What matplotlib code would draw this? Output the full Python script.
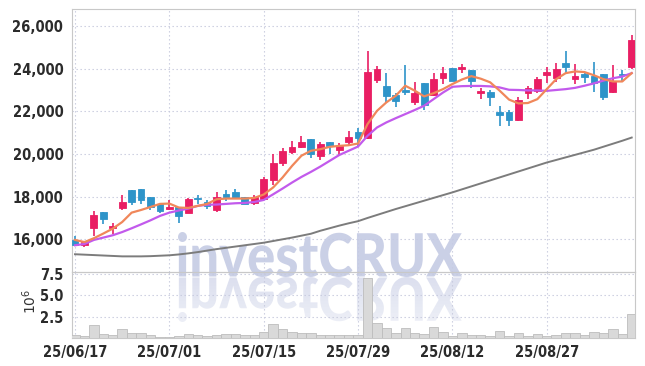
import numpy as np
import matplotlib
matplotlib.use("Agg")
import matplotlib.pyplot as plt
from matplotlib import font_manager
from matplotlib.textpath import TextPath
from matplotlib.patches import PathPatch, Rectangle
from matplotlib.font_manager import FontProperties
from matplotlib.transforms import Affine2D
from matplotlib.ticker import FuncFormatter

# ===========================
# Data
# ===========================
dates = ["25/06/17", "25/06/18", "25/06/19", "25/06/20", "25/06/23", "25/06/24", "25/06/25", "25/06/26", "25/06/27", "25/06/30",
         "25/07/01", "25/07/02", "25/07/03", "25/07/04", "25/07/07", "25/07/08", "25/07/09", "25/07/10", "25/07/11", "25/07/14",
         "25/07/15", "25/07/16", "25/07/17", "25/07/18", "25/07/21", "25/07/22", "25/07/23", "25/07/24", "25/07/25", "25/07/28",
         "25/07/29", "25/07/30", "25/07/31", "25/08/01", "25/08/04", "25/08/05", "25/08/06", "25/08/07", "25/08/08", "25/08/11",
         "25/08/12", "25/08/13", "25/08/14", "25/08/18", "25/08/19", "25/08/20", "25/08/21", "25/08/22", "25/08/25", "25/08/26",
         "25/08/27", "25/08/28", "25/08/29", "25/09/01", "25/09/02", "25/09/03", "25/09/04", "25/09/05", "25/09/08", "25/09/09"]

opens = [15950, 15751, 16516, 17268, 16516, 17455, 18300, 18347, 17986, 17643,
         17440, 17502, 17252, 17900, 17745, 17375, 18113, 18207, 17972, 17690,
         17878, 18803, 19600, 20100, 20333, 20695, 19925, 20540, 20190, 20570,
         21020, 20740, 23490, 23180, 22760, 22995, 22420, 23320, 22760, 23560,
         24030, 23970, 23930, 22850, 22920, 21980, 21980, 21590, 22840, 22950,
         23710, 23560, 24260, 23500, 23750, 23670, 23750, 22920, 23750, 24070]
highs = [16155, 15900, 17315, 17280, 16751, 18080, 18320, 18360, 18000, 17720,
         17845, 17510, 17940, 18097, 17830, 18221, 18315, 18380, 17990, 18066,
         18943, 20005, 20300, 20600, 20850, 20700, 20540, 20550, 20520, 21060,
         21200, 24810, 24140, 23780, 22880, 24170, 23390, 23330, 23820, 24100,
         24040, 24200, 23940, 23070, 23000, 22230, 22080, 22680, 23200, 23590,
         24060, 24260, 24810, 24200, 23860, 24300, 23760, 24170, 23930, 25580]
lows = [15671, 15638, 16174, 16704, 16268, 17375, 17630, 17660, 17375, 17237,
        17375, 16783, 17240, 17634, 17440, 17283, 17800, 17880, 17643, 17596,
        17830, 18568, 19420, 19990, 20300, 19830, 19710, 20020, 19975, 20380,
        20350, 20695, 23350, 22450, 22180, 22760, 22300, 22070, 22700, 23280,
        23400, 23820, 23090, 22570, 22230, 21290, 21330, 21530, 22570, 22880,
        23330, 23370, 23820, 23280, 23310, 22890, 22525, 22850, 23400, 24000]
closes = [15732, 15873, 17127, 16939, 16610, 17737, 17750, 17864, 17535, 17315,
          17534, 17096, 17878, 17878, 17560, 17972, 17986, 17925, 17675, 17986,
          18817, 19568, 20117, 20350, 20550, 19990, 20460, 20380, 20380, 20790,
          20740, 23840, 23990, 22730, 22480, 22890, 22850, 22290, 23510, 23800,
          23440, 24080, 23410, 22930, 22690, 21820, 21610, 22520, 23090, 23510,
          23840, 23990, 24100, 23650, 23630, 23330, 22660, 23440, 23680, 25350]

# volume in millions of shares
volumes = [0.39, 0.19, 1.47, 0.43, 0.31, 1.00, 0.54, 0.54, 0.31, 0.15,
           0.15, 0.27, 0.43, 0.31, 0.19, 0.31, 0.43, 0.43, 0.31, 0.30,
           0.66, 1.59, 1.00, 0.70, 0.54, 0.54, 0.39, 0.31, 0.39, 0.30,
           0.31, 6.98, 1.74, 1.16, 0.54, 1.12, 0.54, 0.43, 1.24, 0.70,
           0.27, 0.54, 0.39, 0.39, 0.27, 0.78, 0.27, 0.54, 0.27, 0.43,
           0.27, 0.31, 0.54, 0.54, 0.39, 0.70, 0.54, 1.00, 0.43, 2.75]

ma_short = [15970, 15870, 16050, 16270, 16500, 16810, 17250, 17375, 17515, 17660,
            17675, 17490, 17470, 17565, 17660, 17878, 17910, 17910, 17910, 17940,
            18100, 18430, 18900, 19440, 19920, 20150, 20225, 20335, 20380, 20410,
            20490, 21400, 22020, 22420, 22730, 23200, 22970, 22700, 22850, 23040,
            23280, 23490, 23650, 23530, 23360, 22970, 22550, 22370, 22390, 22570,
            23040, 23510, 23790, 23870, 23840, 23690, 23510, 23400, 23400, 23790]
ma_mid = [15720, 15780, 15970, 16080, 16190, 16340, 16516, 16700, 16890, 17095,
          17250, 17350, 17440, 17565, 17620, 17630, 17660, 17690, 17705, 17750,
          17845, 18110, 18380, 18660, 18925, 19160, 19410, 19680, 19950, 20150,
          20350, 20850, 21240, 21480, 21680, 21870, 22060, 22260, 22570, 22880,
          23150, 23180, 23190, 23190, 23170, 23120, 23010, 23000, 22980, 22980,
          22960, 23000, 23040, 23100, 23200, 23310, 23440, 23550, 23630, 23790]
ma_long = [15300, 15280, 15260, 15240, 15220, 15200, 15200, 15200, 15210, 15230,
           15250, 15290, 15340, 15400, 15470, 15540, 15600, 15660, 15720, 15780,
           15840, 15920, 16000, 16080, 16170, 16260, 16400, 16520, 16640, 16750,
           16850, 17000, 17140, 17280, 17420, 17550, 17680, 17810, 17940, 18070,
           18200, 18340, 18480, 18620, 18760, 18900, 19040, 19180, 19320, 19460,
           19600, 19720, 19840, 19960, 20080, 20200, 20340, 20480, 20620, 20770]

price_ticks = [16000, 18000, 20000, 22000, 24000, 26000]
volume_ticks = [2.5, 5.0, 7.5]
date_tick_idx = [0, 10, 20, 30, 40, 50]

# ===========================
# Style
# ===========================
UP = "#e91e63"
DOWN = "#2e94c9"
GRID = "#c6c9dd"
SPINE = "#c8c8c8"


def pick_tick_font():
    # prefer a narrow / condensed bold face, like the reference labels
    for f in font_manager.fontManager.ttflist:
        nm = f.fname.lower()
        if ("narrow" in nm or "condensed" in nm) and "bold" in nm and "italic" not in nm and "oblique" not in nm:
            return FontProperties(fname=f.fname, size=10.5)
    return FontProperties(family="Liberation Sans", weight="bold", size=10)


def pick_mark_font():
    names = {f.name for f in font_manager.fontManager.ttflist}
    for fam in ["Lato", "Open Sans", "Roboto", "DejaVu Sans"]:
        if fam in names:
            return FontProperties(family=fam, weight="black")
    return FontProperties(weight="bold")


tick_fp = pick_tick_font()

fig = plt.figure(figsize=(6.45, 3.66), dpi=100)
W, H = 645.0, 366.0
left, right = 71.7 / W, 635.0 / W
ax = fig.add_axes([left, 1 - 272 / H, right - left, (272 - 9.3) / H])
axv = fig.add_axes([left, 1 - 338 / H, right - left, (338 - 272) / H], sharex=ax)
axv.set_facecolor("none")

x = np.arange(len(dates))
o = np.array(opens, float)
c = np.array(closes, float)
up = c >= o
cols = np.where(up, UP, DOWN)

# ===========================
# Candles + moving averages
# ===========================
ax.vlines(x, lows, highs, colors=cols, linewidth=1.2, zorder=3)
body = np.maximum(np.abs(c - o), 40)
ax.bar(x, body, bottom=np.minimum(o, c), width=0.72, color=cols,
       edgecolor=cols, linewidth=0.6, zorder=4)
ax.plot(x, ma_long, color="#7c7c7c", lw=1.4, zorder=2)
ax.plot(x, ma_mid, color="#c25aec", lw=1.6, zorder=5)
ax.plot(x, ma_short, color="#f0875a", lw=1.6, zorder=5)

ax.set_xlim(-0.35, len(dates) - 0.65)
ax.set_ylim(14467, 26783)
ax.set_yticks(price_ticks)
ax.yaxis.set_major_formatter(FuncFormatter(lambda v, p: f"{int(v):,}"))
ax.set_xticks(date_tick_idx)
ax.tick_params(axis="x", labelbottom=False, length=0)
ax.tick_params(axis="y", length=0, pad=6)

# ===========================
# Volume
# ===========================
axv.bar(x, volumes, width=1.0, color="#d9d9d9", edgecolor="#bdbdbd", linewidth=0.6, zorder=3)
axv.set_ylim(0, 7.7)
axv.set_yticks(volume_ticks)
axv.yaxis.set_major_formatter(FuncFormatter(lambda v, p: f"{v:.1f}"))
axv.set_xticks(date_tick_idx)
axv.set_xticklabels([dates[i] for i in date_tick_idx])
axv.tick_params(axis="both", length=0)
axv.tick_params(axis="y", pad=6)
axv.tick_params(axis="x", pad=5)
axv.set_ylabel(r"$10^6$", fontsize=10, color="#333333")
axv.yaxis.set_label_coords(-0.058, 0.55)

for a in (ax, axv):
    a.grid(True, color=GRID, linestyle=(0, (1.2, 2.4)), linewidth=0.8, zorder=1)
    a.set_axisbelow(True)
    for s in a.spines.values():
        s.set_color(SPINE)
    for lab in a.get_xticklabels() + a.get_yticklabels():
        lab.set_fontproperties(tick_fp)
        lab.set_color("#2b2b2b")

# ===========================
# Watermark with reflection
# ===========================
tp = TextPath((0, 0), "investCRUX", size=50, prop=pick_mark_font())
bb = tp.get_extents()
x0, x1 = 178, 462          # pixel box of the word
base, top = 277, 232
sx = (x1 - x0) / bb.width
sy = (base - top) / bb.height
to_fig = Affine2D().scale(1 / W, 1 / H) + fig.transFigure

main_tr = Affine2D().translate(-bb.x0, -bb.y0).scale(sx, sy).translate(x0, H - base) + to_fig
ax.add_patch(PathPatch(tp, facecolor="#c5cbe4", edgecolor="none", alpha=0.9,
                       transform=main_tr, clip_on=False, zorder=1.5))

# mirrored copy, fading downwards in thin horizontal strips
refl_tr = Affine2D().translate(-bb.x0, -bb.y0).scale(sx, -sy).translate(x0, H - base) + to_fig
n_strip = 15
for k in range(n_strip):
    y_top = base + k * (base - top) / n_strip
    y_bot = base + (k + 1) * (base - top) / n_strip
    clip = Rectangle((0, H - y_bot), W, y_bot - y_top, transform=to_fig)
    p = PathPatch(tp, facecolor="#c5cbe4", edgecolor="none",
                  alpha=0.5 * (1 - 0.6 * k / n_strip) + 0.1,
                  transform=refl_tr, zorder=1.5)
    ax.add_patch(p)
    p.set_clip_path(clip)
    p.set_clip_on(True)

fig.savefig("out.png", dpi=100)
